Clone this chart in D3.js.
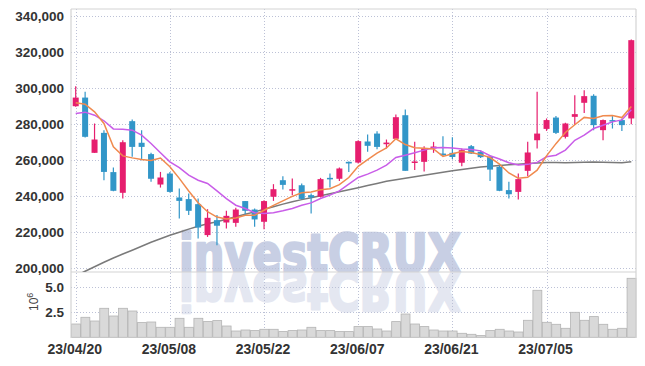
<!DOCTYPE html>
<html>
<head>
<meta charset="utf-8">
<script src="https://cdn.jsdelivr.net/npm/d3@7"></script>
<style>
	body { margin: 0; background: #fff; }
	svg { display: block; }
	.lbl { font-family: "Liberation Sans", Arial, sans-serif; font-weight: bold; fill: #333; }
</style>
</head>
<body>
<div id="chartDiv" style="width:645px;height:366px"></div>
<script>
const dates = ['23/04/20','23/04/21','23/04/24','23/04/25','23/04/26','23/04/27','23/04/28','23/05/02','23/05/03','23/05/04',
	'23/05/08','23/05/09','23/05/10','23/05/11','23/05/12','23/05/15','23/05/16','23/05/17','23/05/18','23/05/19',
	'23/05/22','23/05/23','23/05/24','23/05/25','23/05/26','23/05/30','23/05/31','23/06/01','23/06/02','23/06/05',
	'23/06/07','23/06/08','23/06/09','23/06/12','23/06/13','23/06/14','23/06/15','23/06/16','23/06/19','23/06/20',
	'23/06/21','23/06/22','23/06/23','23/06/26','23/06/27','23/06/28','23/06/29','23/06/30','23/07/03','23/07/04',
	'23/07/05','23/07/06','23/07/07','23/07/10','23/07/11','23/07/12','23/07/13','23/07/14','23/07/17','23/07/18'];

const openP = [289600,294400,263700,274800,253000,241500,281300,269300,263000,246100,
	252200,238900,238000,235200,218000,226300,225000,224800,236900,232200,
	225400,239300,248500,242800,245700,240200,239300,249800,249300,258700,
	258300,270000,274400,268500,271500,284600,258200,258700,266100,263300,
	263700,258200,267400,264300,261500,255900,243000,242000,253700,270700,
	277000,283300,272600,283700,291500,295400,276300,281900,281900,282800];
const highP = [300700,297600,280000,276300,255600,270700,282200,276300,263700,253100,
	253100,243900,241100,238300,232400,229100,231500,233200,237000,232800,
	237400,246300,250700,249400,246700,241100,249800,252200,255600,258900,
	270700,273900,275700,271100,285000,287800,269800,267400,269800,272900,
	272400,266100,268000,265200,262400,256900,247600,252200,269800,297600,
	282800,284100,280400,295700,298500,296300,282200,284100,282800,326700];
const lowP = [289300,272200,263700,248500,242400,238300,261500,259600,247600,244400,
	241700,227200,229100,216100,217000,212400,221700,222600,229100,222600,
	221300,237000,243300,240200,237800,230000,238900,244400,248100,253000,
	257800,264300,265700,266100,271100,253700,254100,253300,263700,261800,
	260300,256300,263000,260900,248100,242400,238300,237800,250700,266100,
	275900,274100,271700,279100,285900,276300,270700,277200,275900,279600];
const closeP = [294400,272600,271100,253100,242600,269600,267000,267000,249300,250000,
	242000,237000,231500,222200,227600,223200,228700,232200,231500,226700,
	236900,243500,245900,243500,238100,238900,249100,249100,255000,257800,
	270200,267600,267000,269400,283500,253700,258900,266100,267200,262400,
	261400,265200,263300,261300,254400,242600,240700,249100,263900,274400,
	281900,274800,280000,285200,295200,279100,281900,281100,279100,326300];
// volume in millions of shares
const volume = [1.33,2.0,1.63,2.9,2.13,2.9,2.63,1.47,1.53,1.0,
	1.0,1.9,1.0,1.9,1.57,1.67,1.13,0.63,0.73,0.67,
	0.8,0.8,0.57,0.67,0.73,1.0,0.67,0.67,0.57,0.57,
	1.07,1.07,0.83,0.63,1.57,2.33,1.33,1.07,0.73,0.63,
	0.63,0.4,0.3,0.17,0.67,0.8,0.63,0.53,1.7,4.7,
	1.5,1.3,0.9,2.5,1.7,2.07,1.3,0.8,0.9,5.9];
const ma5 = [291500,290700,286500,280000,267000,262000,260900,260000,259500,260800,
	256000,249500,242500,236000,231000,228000,227000,227500,229000,229000,
	231800,234500,237000,239500,241500,242000,243200,243800,246000,250000,
	256200,259900,263500,266400,271500,268300,266500,266300,265900,261700,
	263200,264500,263900,262700,261100,257400,252500,249600,250100,254100,
	262000,268800,275000,279300,283400,282800,284300,284500,283300,289500];
const ma20 = [285600,286300,284600,281500,277000,276800,276300,273500,268900,263700,
	258700,255500,251300,248500,246700,242600,238300,234600,232800,230400,
	230000,230400,231500,232800,234600,235900,238300,240200,242600,246300,
	250000,251900,254100,256900,261100,262400,263700,265200,266500,266700,
	266400,265900,265600,264800,262100,260300,258200,257000,257300,258400,
	261500,262400,265200,270700,273500,277200,279000,280900,282000,287600];
const ma60 = [195400,197900,200400,202900,205300,207500,209600,211800,214000,216000,
	217900,219600,221300,222900,224300,225400,226800,228200,229600,230900,
	232400,233800,235200,236500,237700,238800,239900,241000,242100,243200,
	244300,245500,246700,247900,248800,249600,250400,251300,252100,252900,
	253800,254500,255200,255800,256300,256700,257100,257400,257800,258000,
	258300,258300,258200,258300,258500,258600,258500,258300,258200,258700];

const priceTicks = [200000,220000,240000,260000,280000,300000,320000,340000];
const volTicks = [2.5, 5.0];
const dateTicks = ['23/04/20','23/05/08','23/05/22','23/06/07','23/06/21','23/07/05'];

const W = 645, H = 366;
const plot = { left: 71, right: 636, top: 9, sep: 272, bottom: 338 };
const upColor = '#e61e6e', downColor = '#3296c8';

function addWatermark(sel, fill, mirrored){
	const t = sel.append('text')
		.attr('x', 179).attr('y', 272)
		.attr('textLength', 282).attr('lengthAdjust', 'spacingAndGlyphs')
		.style('font-family', '"DejaVu Sans", sans-serif')
		.style('font-weight', 'bold').style('font-size', '53px')
		.style('fill', fill)
		.style('stroke', fill).style('stroke-width', '2.5px').style('stroke-linejoin', 'round')
		.text('investCRUX');
	if(mirrored){
		t.attr('transform', 'translate(0,544) scale(1,-1)');
	}
	return t;
}

function buildChart(){
	const chartDiv = document.getElementById('chartDiv');
	const svg = d3.select(chartDiv).append('svg')
		.attr('width', W)
		.attr('height', H);

	const idx = d3.range(dates.length);
	const x = d3.scaleBand().domain(idx).range([plot.left, plot.right]).padding(0);
	const cx = i => x(i) + x.bandwidth() / 2;
	const y = d3.scaleLinear().domain([200000, 340000]).range([267.5, 15.5]);
	const yv = d3.scaleLinear().domain([0, 5]).range([337.3, 287.3]);

	const defs = svg.append('defs');
	defs.append('clipPath').attr('id', 'clipPrice')
		.append('rect').attr('x', plot.left).attr('y', plot.top)
		.attr('width', plot.right - plot.left).attr('height', plot.sep - plot.top);
	defs.append('clipPath').attr('id', 'clipVol')
		.append('rect').attr('x', plot.left).attr('y', plot.sep)
		.attr('width', plot.right - plot.left).attr('height', plot.bottom - plot.sep);

	// watermark + its reflection
	addWatermark(svg.append('g').attr('clip-path', 'url(#clipPrice)'), '#c8cfe4', false);
	addWatermark(svg.append('g').attr('clip-path', 'url(#clipVol)'), '#e4e7f1', true);

	//grid
	const grid = svg.append('g')
		.attr('stroke', '#bcc1d6').attr('stroke-dasharray', '1,2').attr('stroke-width', 1);
	grid.selectAll('.hp').data(priceTicks).enter().append('line')
		.attr('x1', plot.left).attr('x2', plot.right)
		.attr('y1', d => Math.round(y(d)) + 0.5).attr('y2', d => Math.round(y(d)) + 0.5);
	grid.selectAll('.hv').data(volTicks).enter().append('line')
		.attr('x1', plot.left).attr('x2', plot.right)
		.attr('y1', d => Math.round(yv(d)) + 0.5).attr('y2', d => Math.round(yv(d)) + 0.5);
	grid.selectAll('.vx').data(dateTicks).enter().append('line')
		.attr('x1', d => Math.round(cx(dates.indexOf(d))) + 0.5)
		.attr('x2', d => Math.round(cx(dates.indexOf(d))) + 0.5)
		.attr('y1', plot.top).attr('y2', plot.bottom);

	// volume bars
	svg.append('g').selectAll('rect').data(idx).enter().append('rect')
		.attr('x', i => x(i) + 0.5)
		.attr('y', i => yv(volume[i]))
		.attr('width', x.bandwidth() - 0.5)
		.attr('height', i => yv(0) - yv(volume[i]))
		.attr('fill', '#d9d9d9')
		.attr('stroke', '#b4b4b4')
		.attr('stroke-width', 0.8);

	// frame
	const frame = svg.append('g').attr('stroke', '#d4d4d4').attr('stroke-width', 1.2);
	frame.append('line').attr('x1', plot.left).attr('x2', plot.right).attr('y1', plot.top).attr('y2', plot.top);
	frame.append('line').attr('x1', plot.left).attr('x2', plot.right).attr('y1', plot.sep).attr('y2', plot.sep);
	frame.append('line').attr('x1', plot.left).attr('x2', plot.left).attr('y1', plot.top).attr('y2', plot.bottom);
	frame.append('line').attr('x1', plot.right).attr('x2', plot.right).attr('y1', plot.top).attr('y2', plot.bottom);

	const pG = svg.append('g').attr('clip-path', 'url(#clipPrice)');

	// moving averages
	const mkLine = arr => d3.line().x(i => cx(i)).y(i => y(arr[i]))(idx);
	pG.append('path').attr('d', mkLine(ma60)).attr('fill', 'none')
		.attr('stroke', '#7a7a7a').attr('stroke-width', 1.5);

	// candles
	const candle = pG.selectAll('.candle').data(idx).enter().append('g');
	candle.append('line')
		.attr('x1', i => cx(i)).attr('x2', i => cx(i))
		.attr('y1', i => y(highP[i])).attr('y2', i => y(lowP[i]))
		.attr('stroke', i => closeP[i] >= openP[i] ? upColor : downColor)
		.attr('stroke-width', 1.2);
	candle.append('rect')
		.attr('x', i => cx(i) - 3)
		.attr('y', i => y(Math.max(openP[i], closeP[i])))
		.attr('width', 6)
		.attr('height', i => Math.max(1.5, Math.abs(y(openP[i]) - y(closeP[i]))))
		.attr('fill', i => closeP[i] >= openP[i] ? upColor : downColor);

	pG.append('path').attr('d', mkLine(ma20)).attr('fill', 'none')
		.attr('stroke', '#c95de8').attr('stroke-width', 1.5);
	pG.append('path').attr('d', mkLine(ma5)).attr('fill', 'none')
		.attr('stroke', '#f08a4e').attr('stroke-width', 1.5);

	// axis labels
	svg.append('g').selectAll('text').data(priceTicks).enter().append('text')
		.attr('class', 'lbl')
		.attr('x', 64).attr('y', d => y(d) + 5)
		.attr('text-anchor', 'end')
		.style('font-size', '13.5px')
		.text(d => d3.format(',')(d));
	svg.append('g').selectAll('text').data(volTicks).enter().append('text')
		.attr('class', 'lbl')
		.attr('x', 64).attr('y', d => yv(d) + 5)
		.attr('text-anchor', 'end')
		.style('font-size', '13.5px')
		.text(d => d.toFixed(1));
	svg.append('g').selectAll('text').data(dateTicks).enter().append('text')
		.attr('class', 'lbl')
		.attr('x', d => cx(dates.indexOf(d)) - 1).attr('y', 354)
		.attr('text-anchor', 'middle')
		.style('font-size', '14px')
		.text(d => d);

	const unit = svg.append('text')
		.attr('transform', 'translate(38,311) rotate(-90)')
		.style('font-family', '"Liberation Sans", Arial, sans-serif')
		.style('font-size', '12px').style('fill', '#444');
	unit.append('tspan').text('10');
	unit.append('tspan').attr('dy', -5).style('font-size', '9px').text('6');
}

buildChart();
</script>
</body>
</html>
